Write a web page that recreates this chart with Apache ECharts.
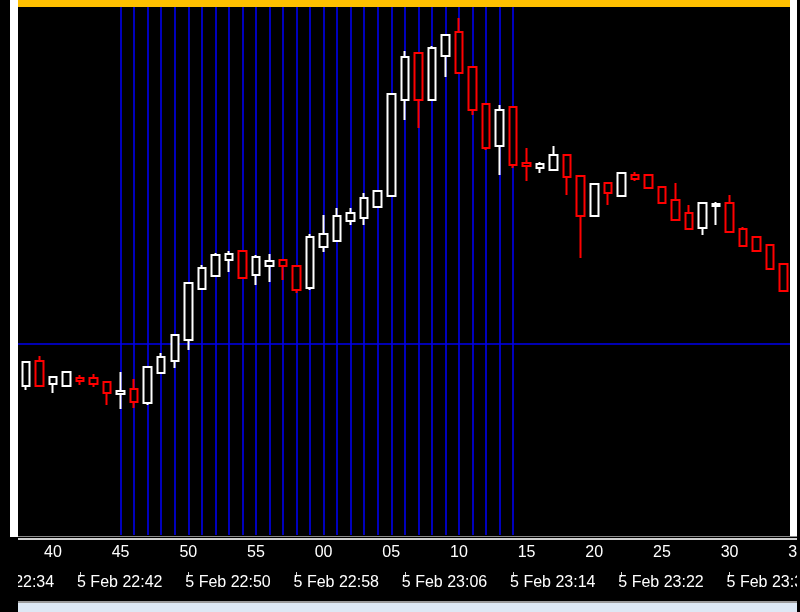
<!DOCTYPE html>
<html>
<head>
<meta charset="utf-8">
<script src="https://cdn.jsdelivr.net/npm/echarts@6/dist/echarts.min.js"></script>
<style>
  html, body { margin: 0; padding: 0; background: #000; }
  #chart { width: 800px; height: 612px; }
</style>
</head>
<body>
<div id="chart"></div>
<script>
// minute categories, 22:34 .. 23:35 (first candle is 22:38)
var minutes = ['22:34','22:35','22:36','22:37','22:38','22:39','22:40','22:41','22:42','22:43',
  '22:44','22:45','22:46','22:47','22:48','22:49','22:50','22:51','22:52','22:53',
  '22:54','22:55','22:56','22:57','22:58','22:59','23:00','23:01','23:02','23:03',
  '23:04','23:05','23:06','23:07','23:08','23:09','23:10','23:11','23:12','23:13',
  '23:14','23:15','23:16','23:17','23:18','23:19','23:20','23:21','23:22','23:23',
  '23:24','23:25','23:26','23:27','23:28','23:29','23:30','23:31','23:32','23:33',
  '23:34','23:35'];
var firstCandle = '22:38';

// OHLC (arbitrary price units)
var openP  = [149,174,151,149,157,157,153,141,146,132,162,174,195,246,259,275,284,260,269,275,
  269,247,288,294,314,317,328,339,435,482,435,479,503,468,431,389,428,372,367,365,
  380,359,319,352,339,360,360,348,335,322,307,329,332,306,298,290,271];
var closeP = [173,149,158,163,154,151,142,144,133,168,178,200,252,267,280,281,257,278,274,269,
  245,298,301,319,322,337,344,441,478,435,487,500,462,425,387,425,370,369,371,380,
  358,319,351,342,362,356,347,332,315,306,332,331,303,289,284,266,244];
var lowP   = [145,148,142,148,150,148,130,126,127,130,161,167,185,245,258,263,256,250,253,255,
  242,245,283,293,310,310,327,338,415,407,434,458,461,420,385,360,367,354,362,364,
  340,277,318,330,338,354,346,331,314,305,300,310,302,288,283,265,243];
var highP  = [174,179,159,164,160,161,154,163,156,169,182,201,253,270,282,284,285,280,281,276,
  270,301,320,327,327,342,345,442,484,483,489,501,517,469,432,430,429,387,373,389,
  381,360,352,353,363,363,361,349,352,330,333,333,340,308,299,291,272];

// blue marker lines
var hLineLevel = 191;
var vLineFrom = '22:45';
var vLineTo = '23:14';

var font = "'Liberation Sans', Arial, sans-serif";

var start = minutes.indexOf(firstCandle);
var candles = minutes.map(function (m, i) {
  var k = i - start;
  if (k < 0 || k >= openP.length) return '-';
  return [openP[k], closeP[k], lowP[k], highP[k]];
});

var vLines = [];
for (var i = minutes.indexOf(vLineFrom); i <= minutes.indexOf(vLineTo); i++) {
  vLines.push({ xAxis: minutes[i] });
}
var markData = vLines.concat([{ yAxis: hLineLevel }]);

var chart = echarts.init(document.getElementById('chart'), null, { renderer: 'canvas' });

var option = {
  backgroundColor: '#000',
  animation: false,
  grid: { left: -35, right: -4, top: 7, bottom: 77, outerBoundsMode: 'none', containLabel: false },
  xAxis: [
    {
      type: 'category',
      data: minutes,
      boundaryGap: true,
      axisLine: { show: false },
      axisTick: { show: false },
      splitLine: { show: false },
      axisLabel: {
        color: '#fff',
        fontFamily: font,
        fontSize: 16,
        margin: 10,
        interval: function (idx, v) { return +v.slice(3) % 5 === 0; },
        formatter: function (v) { return v.slice(3); }
      }
    },
    {
      type: 'category',
      data: minutes,
      position: 'bottom',
      offset: 37,
      boundaryGap: true,
      axisLine: { show: false },
      splitLine: { show: false },
      axisTick: {
        show: true,
        alignWithLabel: true,
        length: 5,
        interval: function (idx) { return idx % 8 === 0; },
        lineStyle: { color: '#d0d0d0', width: 1 }
      },
      axisLabel: {
        color: '#fff',
        fontFamily: font,
        fontSize: 16,
        margin: 3,
        align: 'left',
        padding: [0, 0, 0, -3],
        interval: function (idx) { return idx % 8 === 0; },
        formatter: function (v) { return '5 Feb ' + v; }
      }
    }
  ],
  yAxis: { type: 'value', min: 0, max: 528, show: false },
  series: [
    {
      type: 'candlestick',
      xAxisIndex: 0,
      barWidth: 8,
      z: 2,
      data: candles,
      itemStyle: {
        color: '#000',
        color0: '#000',
        borderColor: '#ffffff',
        borderColor0: '#ff0000',
        borderWidth: 2
      },
      emphasis: { disabled: true },
      markLine: {
        silent: true,
        z: 1,
        symbol: 'none',
        animation: false,
        label: { show: false },
        lineStyle: { color: '#0000ee', width: 1.6, type: 'solid' },
        emphasis: { disabled: true },
        data: markData
      }
    }
  ],
  graphic: [
    // window frame pieces
    { type: 'rect', z: 100, shape: { x: 18, y: 0, width: 772, height: 7 }, style: { fill: '#ffc000' } },
    { type: 'rect', z: 100, shape: { x: 0, y: 0, width: 10, height: 537 }, style: { fill: '#000' } },
    { type: 'rect', z: 100, shape: { x: 10, y: 0, width: 8, height: 537 }, style: { fill: '#fff' } },
    { type: 'rect', z: 100, shape: { x: 790, y: 0, width: 7, height: 537 }, style: { fill: '#fff' } },
    { type: 'rect', z: 100, shape: { x: 797, y: 0, width: 3, height: 612 }, style: { fill: '#000' } },
    { type: 'rect', z: 100, shape: { x: 0, y: 537, width: 18, height: 75 }, style: { fill: '#000' } },
    { type: 'rect', z: 100, shape: { x: 18, y: 536, width: 779, height: 1 }, style: { fill: '#8a8a8a' } },
    { type: 'rect', z: 100, shape: { x: 18, y: 538, width: 779, height: 2 }, style: { fill: '#d0d0d0' } },
    { type: 'rect', z: 100, shape: { x: 18, y: 601, width: 779, height: 2 }, style: { fill: '#9a9a9a' } },
    { type: 'rect', z: 100, shape: { x: 18, y: 603, width: 779, height: 9 }, style: { fill: '#dde8f4' } }
  ]
};

chart.setOption(option);
</script>
</body>
</html>
